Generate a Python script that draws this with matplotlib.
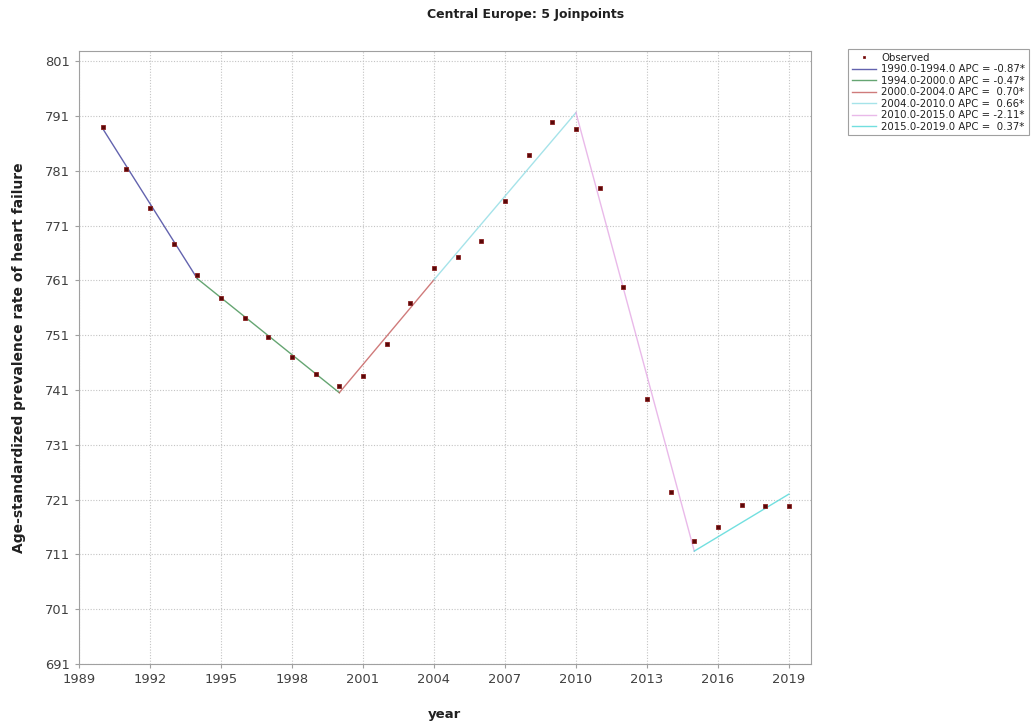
import matplotlib
matplotlib.use("Agg")
import matplotlib.pyplot as plt

# observed age-standardized prevalence, Central Europe
years = [1990, 1991, 1992, 1993, 1994, 1995, 1996, 1997, 1998, 1999,
         2000, 2001, 2002, 2003, 2004, 2005, 2006, 2007, 2008, 2009,
         2010, 2011, 2012, 2013, 2014, 2015, 2016, 2017, 2018, 2019]
observed = [789.0, 781.3, 774.2, 767.6, 761.9, 757.8, 754.2, 750.7, 747.1, 744.0,
            741.7, 743.5, 749.4, 756.9, 763.2, 765.3, 768.1, 775.5, 783.9, 789.8,
            788.6, 777.8, 759.7, 739.4, 722.3, 713.4, 716.0, 720.1, 719.9, 719.8]

# joinpoint model: segment ends and fitted values there
joint_years = [1990, 1994, 2000, 2004, 2010, 2015, 2019]
joint_fit = [788.7, 761.3, 740.5, 761.1, 791.6, 711.6, 722.0]
apc_labels = ["1990.0-1994.0 APC = -0.87*",
              "1994.0-2000.0 APC = -0.47*",
              "2000.0-2004.0 APC =  0.70*",
              "2004.0-2010.0 APC =  0.66*",
              "2010.0-2015.0 APC = -2.11*",
              "2015.0-2019.0 APC =  0.37*"]
seg_colors = ["#3c3c9a", "#3f8f4f", "#c45a5a", "#8fdce4", "#e4a8e4", "#4fd8d8"]

x_ticks = [1989, 1992, 1995, 1998, 2001, 2004, 2007, 2010, 2013, 2016, 2019]
y_ticks = [691, 701, 711, 721, 731, 741, 751, 761, 771, 781, 791, 801]

fig = plt.figure(figsize=(10.32, 7.27), dpi=100)
ax = fig.add_axes([79 / 1032, 63 / 727, 731.7 / 1032, 613.3 / 727])

ax.plot(years, observed, "s", ms=2.6, color="#5a0808", mec="#8a2020",
        mew=0.6, label="Observed", zorder=3)
for i in range(len(apc_labels)):
    ax.plot(joint_years[i:i + 2], joint_fit[i:i + 2], "-", lw=1.0,
            color=seg_colors[i], alpha=0.8, label=apc_labels[i])

ax.set_xlim(1989, 2019.92)
ax.set_ylim(691, 802.9)
ax.set_xticks(x_ticks)
ax.set_yticks(y_ticks)
ax.grid(True, linestyle=(0, (1, 1.5)), color="#c4c4c4", lw=0.8)
for s in ax.spines.values():
    s.set_color("#a0a0a0")
ax.tick_params(colors="#a0a0a0", labelcolor="#404040", labelsize=9.4, length=3)

ax.set_xlabel("year", fontsize=9.5, fontweight="bold", color="#202020")
ax.xaxis.set_label_coords(0.5, -0.072)
ax.set_ylabel("Age-standardized prevalence rate of heart failure", fontsize=10,
              fontweight="bold", color="#202020")
ax.yaxis.set_label_coords(-0.073, 0.5)

fig.text(526 / 1032, 1 - 14.5 / 727, "Central Europe: 5 Joinpoints", ha="center",
         va="center", fontsize=9, fontweight="bold", color="#202020")

leg = fig.legend(loc="upper left", bbox_to_anchor=(848 / 1032, 1 - 49 / 727),
                 fontsize=7.3, frameon=True, fancybox=False, framealpha=1,
                 edgecolor="#a0a0a0", handlelength=2.4, handletextpad=0.5,
                 labelspacing=0.15, borderpad=0.35, borderaxespad=0,
                 markerscale=0.6)
leg.get_frame().set_linewidth(0.8)
for t in leg.get_texts():
    t.set_color("#202020")

fig.savefig("out.png", dpi=100)
